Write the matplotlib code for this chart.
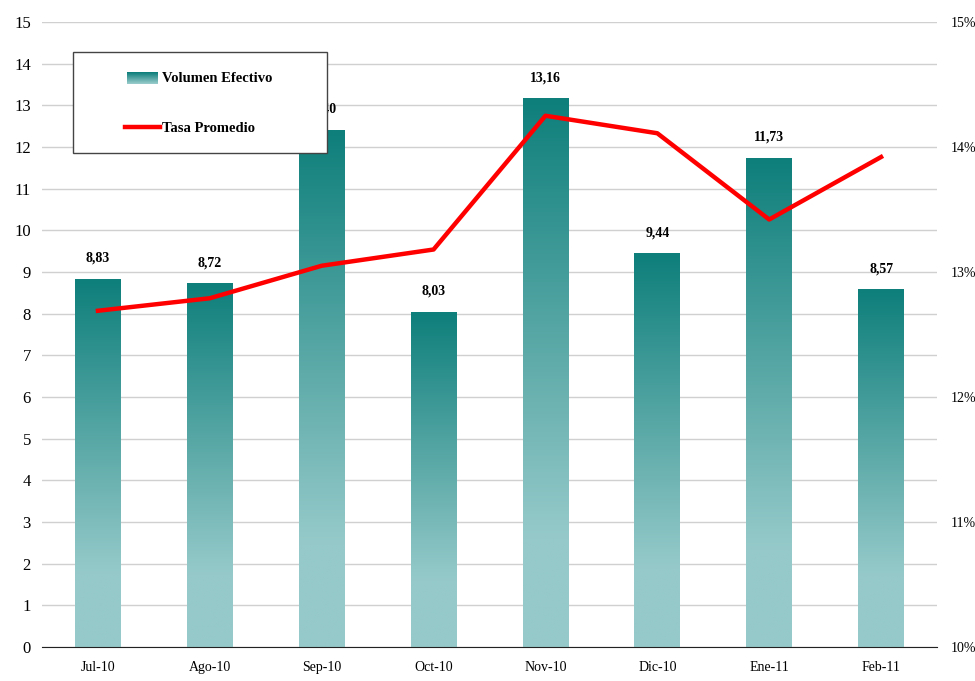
import numpy as np
import matplotlib.pyplot as plt
from matplotlib.colors import LinearSegmentedColormap
from matplotlib.patches import Rectangle
from matplotlib.lines import Line2D

meses = ['Jul-10', 'Ago-10', 'Sep-10', 'Oct-10', 'Nov-10', 'Dic-10', 'Ene-11', 'Feb-11']
volumen = [8.83, 8.72, 12.40, 8.03, 13.16, 9.44, 11.73, 8.57]
tasa = [12.69, 12.79, 13.05, 13.18, 14.25, 14.11, 13.42, 13.92]

plt.rcParams['font.family'] = ['Liberation Serif', 'DejaVu Serif']

fig = plt.figure(figsize=(9.75, 6.81), dpi=100)
ax = fig.add_axes([42 / 975, 34 / 681, 895 / 975, 625 / 681])

# degradado de las barras (arriba oscuro, abajo claro)
cmap = LinearSegmentedColormap.from_list('teal', [(0, '#0e7f7b'), (0.8, '#96caca'), (1, '#96caca')])
grad = np.linspace(0, 1, 256).reshape(-1, 1)

x = np.arange(len(meses))
ancho = 0.41
ax.set_xlim(-0.5, len(meses) - 0.5)
ax.set_ylim(0, 15)

for i, v in enumerate(volumen):
    ax.imshow(grad, cmap=cmap, aspect='auto', extent=(x[i] - ancho / 2, x[i] + ancho / 2, 0, v),
              zorder=2, interpolation='bicubic')
    ax.text(x[i], v + 0.35, f'{v:.2f}'.replace('.', ','), ha='center', va='bottom',
            fontsize=10, fontweight='bold', zorder=3)

ax.set_yticks(range(16))
ax.yaxis.grid(True, color='#d0d0d0', linewidth=1)
ax.set_axisbelow(True)
ax.set_xticks(x)
ax.set_xticklabels(meses, fontsize=10)
ax.tick_params(axis='x', length=0, pad=10)
ax.tick_params(axis='y', length=0, labelsize=12, pad=8)
for s in ['top', 'right', 'left']:
    ax.spines[s].set_visible(False)
ax.spines['bottom'].set_color('#222222')

ax2 = ax.twinx()
ax2.set_ylim(10, 15)
ax2.plot(x, tasa, color='red', linewidth=3.2, zorder=4)
ax2.set_yticks(range(10, 16))
ax2.set_yticklabels([f'{t}%' for t in range(10, 16)], fontsize=10)
ax2.tick_params(axis='y', length=0, pad=10)
for s in ['top', 'right', 'left', 'bottom']:
    ax2.spines[s].set_visible(False)

# leyenda
ax2.add_patch(Rectangle((73 / 975, 1 - 153 / 681), 254 / 975, 101 / 681, transform=fig.transFigure,
                        facecolor='white', edgecolor='#444444', linewidth=1, zorder=10))
fig.figimage(np.tile(np.linspace(0, 1, 12).reshape(-1, 1), (1, 31)), xo=127, yo=681 - 84,
             cmap=LinearSegmentedColormap.from_list('leg', ['#0e7f7b', '#96caca']), zorder=11)
fig.add_artist(Line2D([125 / 975, 160 / 975], [1 - 127 / 681, 1 - 127 / 681], transform=fig.transFigure,
                      color='red', linewidth=3.2, zorder=11))
fig.text(162 / 975, 1 - 78 / 681, 'Volumen Efectivo', fontsize=10.5, fontweight='bold', va='center', zorder=12)
fig.text(162 / 975, 1 - 128 / 681, 'Tasa Promedio', fontsize=10.5, fontweight='bold', va='center', zorder=12)

plt.savefig('out.png', dpi=100)
